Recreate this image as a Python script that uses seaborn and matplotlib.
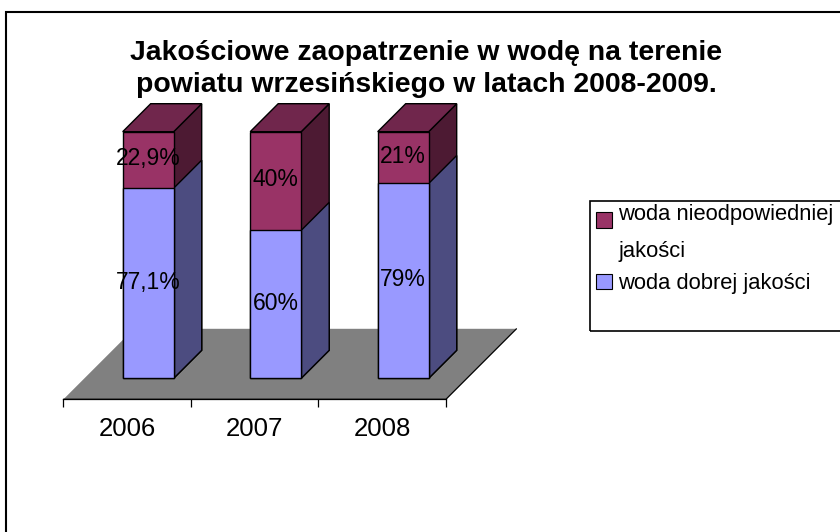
import numpy as np
import pandas as pd
import matplotlib
matplotlib.use("Agg")
import matplotlib.pyplot as plt
from matplotlib.patches import Polygon, Rectangle, Patch
from matplotlib.legend_handler import HandlerPatch
import seaborn as sns

# ---- data ----
years = ["2006", "2007", "2008"]
good = [77.1, 60, 79]          # woda dobrej jakości
bad = [22.9, 40, 21]           # woda nieodpowiedniej jakości
good_labels = ["77,1%", "60%", "79%"]
bad_labels = ["22,9%", "40%", "21%"]
series_names = ["woda nieodpowiedniej\njakości", "woda dobrej jakości"]
title = "Jakościowe zaopatrzenie w wodę na terenie\npowiatu wrzesińskiego w latach 2008-2009."

# ---- style ----
sns.set_theme(style="white")
plt.rcParams["font.family"] = ["Liberation Sans", "DejaVu Sans"]
plt.rcParams["text.color"] = "black"
plt.rcParams["xtick.color"] = "black"
plt.rcParams["xtick.labelcolor"] = "black"

c_good_front, c_good_side = "#9999FF", "#4C4C80"
c_bad_front, c_bad_side, c_bad_top = "#993366", "#4D1A33", "#70264C"
c_floor = "#808080"

W, H = 840, 532
fig = plt.figure(figsize=(W / 100, H / 100), dpi=100)

# axes geometry (pixel based): x unit = 127.5 px, y unit = 2.466 px per %
px_per_x, px_per_y = 127.5, 2.466
x0_px, y0_px = 148.2, 378.3    # pixel of data (0, 0)
xlim = (-1.0, 3.0)
ylim = (-15.0, 115.0)
left = (x0_px + xlim[0] * px_per_x) / W
width = (xlim[1] - xlim[0]) * px_per_x / W
bottom = 1 - (y0_px - ylim[0] * px_per_y) / H
height = (ylim[1] - ylim[0]) * px_per_y / H
ax = fig.add_axes([left, bottom, width, height])
ax.patch.set_alpha(0)

# depth vectors (data units)
bar_dx, bar_dy = 28 / px_per_x, 28 / px_per_y
front_dx, front_dy = 21 / px_per_x, 21 / px_per_y
floor_dx, floor_dy = 70.5 / px_per_x, 70.5 / px_per_y

n = len(years)

# bars via seaborn
df = pd.DataFrame({"year": years, "good": good, "total": np.array(good) + np.array(bad)})
sns.barplot(data=df, x="year", y="total", color=c_bad_front, saturation=1, width=0.4,
            edgecolor="black", linewidth=1, ax=ax, zorder=2)
top_bars = list(ax.patches)
sns.barplot(data=df, x="year", y="good", color=c_good_front, saturation=1, width=0.4,
            edgecolor="black", linewidth=1, ax=ax, zorder=2)
bottom_bars = [p for p in ax.patches if p not in top_bars]
ax.set_xlim(*xlim)
ax.set_ylim(*ylim)

# floor
fl = [(-0.5 - front_dx, -front_dy), (n - 0.5 - front_dx, -front_dy),
      (n - 0.5 - front_dx + floor_dx, -front_dy + floor_dy),
      (-0.5 - front_dx + floor_dx, -front_dy + floor_dy)]
ax.add_patch(Polygon(fl, closed=True, facecolor=c_floor, edgecolor="none", zorder=0))
ax.plot([fl[0][0], fl[1][0], fl[2][0]], [fl[0][1], fl[1][1], fl[2][1]],
        color="black", lw=0.9, zorder=0.5)


def side_faces(p, side_col, top_col=None, z=1.9):
    x0, y0 = p.get_x(), p.get_y()
    x1, y1 = x0 + p.get_width(), y0 + p.get_height()
    side = [(x1, y0), (x1 + bar_dx, y0 + bar_dy), (x1 + bar_dx, y1 + bar_dy), (x1, y1)]
    ax.add_patch(Polygon(side, closed=True, facecolor=side_col, edgecolor="black",
                         lw=1, zorder=z))
    if top_col is not None:
        top = [(x0, y1), (x1, y1), (x1 + bar_dx, y1 + bar_dy), (x0 + bar_dx, y1 + bar_dy)]
        ax.add_patch(Polygon(top, closed=True, facecolor=top_col, edgecolor="black",
                             lw=1, zorder=z))


for p in top_bars:
    side_faces(p, c_bad_side, c_bad_top, z=1.9)
for p in bottom_bars:
    side_faces(p, c_good_side, z=1.95)

# data labels
for i, p in enumerate(bottom_bars):
    cx = p.get_x() + p.get_width() / 2
    ax.text(cx, good[i] / 2 + 0.5, good_labels[i], ha="center", va="center",
            fontsize=16.5, color="black", zorder=5)
    ax.text(cx, good[i] + bad[i] / 2 + 0.5, bad_labels[i], ha="center", va="center",
            fontsize=16.5, color="black", zorder=5)

# axis: bottom spine on floor front edge
for s in ["top", "right", "left"]:
    ax.spines[s].set_visible(False)
ax.spines["bottom"].set_position(("data", -front_dy))
ax.spines["bottom"].set_bounds(-0.5 - front_dx, n - 0.5 - front_dx)
ax.spines["bottom"].set_color("black")
ax.spines["bottom"].set_linewidth(0.9)
ax.set_yticks([])
ax.set_xticks(np.arange(n + 1) - 0.5 - front_dx)
ax.set_xticklabels([])
ax.tick_params(axis="x", which="major", direction="out", length=6, width=0.9,
               color="black", bottom=True)
ax.set_xticks(np.arange(n) - front_dx, minor=True)
ax.set_xticklabels(years, minor=True, fontsize=18.5, color="black")
ax.tick_params(axis="x", which="minor", length=0, pad=13)
ax.set_xlabel("")
ax.set_ylabel("")

# title (va='baseline' anchors the last line's baseline)
fig.text(426.5 / W, 1 - 91.5 / H, title, ha="center", va="baseline",
         fontsize=20.4, fontweight="bold", linespacing=1.3, color="black")

# legend box and legend
fig.add_artist(Rectangle((589.5 / W, 1 - 330.5 / H), (900 - 589.5) / W, 130 / H,
                         transform=fig.transFigure, facecolor="none", edgecolor="black",
                         lw=1.2, clip_on=False))


def shifted_patch(shift):
    def f(legend, orig_handle, xdescent, ydescent, width, height, fontsize):
        return Rectangle((-xdescent, -ydescent + shift), width, height)
    return f


handles = [Patch(facecolor=c_bad_front, edgecolor="black", lw=0.8),
           Patch(facecolor=c_good_front, edgecolor="black", lw=0.8)]
leg = fig.legend(handles, series_names, loc="upper left",
                 bbox_to_anchor=(592 / W, 1 - 200 / H), frameon=False,
                 fontsize=15.8, handlelength=0.7, handleheight=0.7,
                 handletextpad=0.3, labelspacing=0.52, borderaxespad=0, borderpad=0.2,
                 handler_map={handles[0]: HandlerPatch(patch_func=shifted_patch(9.5))})
for t in leg.get_texts():
    t.set_linespacing(1.95)
    t.set_color("black")

# outer chart border
fig.add_artist(Rectangle((5.5 / W, -0.05), 1.1, 1 - 12 / H + 0.05,
                         transform=fig.transFigure, facecolor="none", edgecolor="black",
                         lw=1.5, clip_on=False))

fig.savefig("out.png", dpi=100)
